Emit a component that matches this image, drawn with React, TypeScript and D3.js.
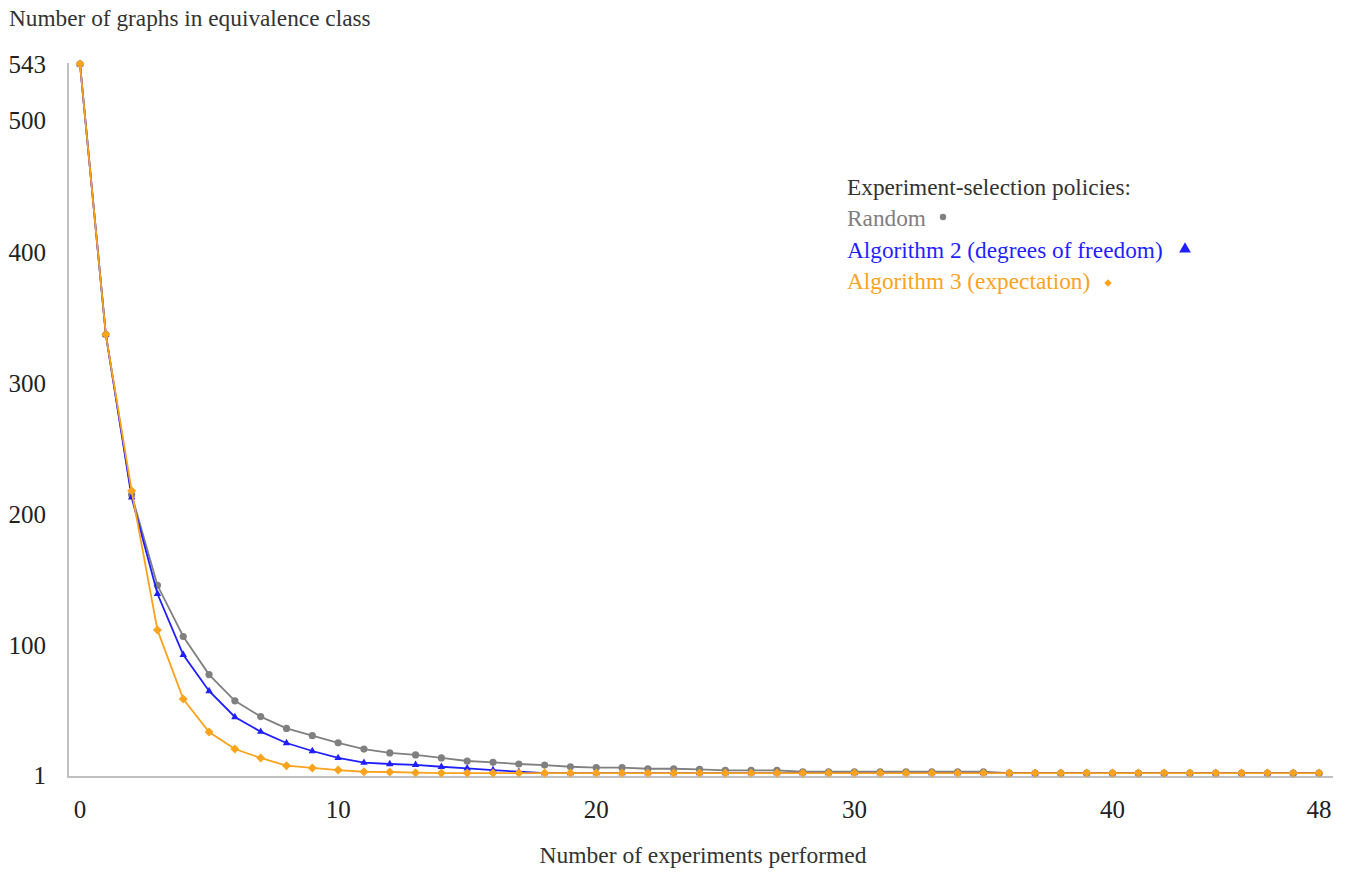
import React from "react";
import * as d3 from "d3";

const steps: number[] = d3.range(0, 49);

const randomPolicy: number[] = [
  543, 337, 215, 146, 107, 78, 58, 46, 37, 31.5, 26, 21.3, 18.3, 16.8, 14.5, 12.2, 11.2,
  9.9, 9.1, 7.8, 7.1, 7.1, 6.3, 6.3, 5.8, 5, 5, 5, 4, 4, 4, 4, 4, 4, 4, 4,
  3, 3, 3, 3, 3, 3, 3, 3, 3, 3, 3, 3, 3,
];

const algorithm2: number[] = [
  543, 337, 213, 139.5, 93, 65.5, 45.7, 34.5, 25.9, 19.8, 14.5, 10.9, 9.9, 9.3, 7.8, 6.6,
  5.3, 4, 3, 3, 3, 3, 3, 3, 3, 3, 3, 3, 3, 3, 3, 3, 3, 3, 3, 3,
  3, 3, 3, 3, 3, 3, 3, 3, 3, 3, 3, 3, 3,
];

const algorithm3: number[] = [
  543, 337, 218, 112, 59.4, 34.3, 21.3, 14.5, 8.6, 6.9, 5.3, 4, 3.8, 3.3, 3, 3, 3, 3, 3,
  3, 3, 3, 3, 3, 3, 3, 3, 3, 3, 3, 3, 3, 3, 3, 3, 3, 3, 3, 3, 3, 3, 3, 3, 3,
  3, 3, 3, 3, 3,
];

const xTicks: number[] = [0, 10, 20, 30, 40, 48];
const yTicks: number[] = [1, 100, 200, 300, 400, 500, 543];

const legendTitle = "Experiment-selection policies:";
const seriesNames = ["Random", "Algorithm 2 (degrees of freedom)", "Algorithm 3 (expectation)"];
const seriesColors = ["#808080", "#1f1fff", "#fba31c"];

const FONT = "'Liberation Serif', 'DejaVu Serif', serif";

export default function App() {
  const W = 1351;
  const H = 872;
  const x = d3.scaleLinear().domain([0, 48]).range([80, 1319]);
  const y = d3.scaleLinear().domain([0, 543]).range([777, 64]);

  const line = d3
    .line<number>()
    .x((_, i) => x(steps[i]))
    .y((d) => y(d));

  const series = [randomPolicy, algorithm2, algorithm3];
  const tri = d3.symbol().type(d3.symbolTriangle).size(24)();

  const marker = (k: number, cx: number, cy: number, key: string | number, big = false) => {
    const color = seriesColors[k];
    if (k === 0) return <circle key={key} cx={cx} cy={cy} r={big ? 3.2 : 3.6} fill={color} />;
    if (k === 1)
      return (
        <path
          key={key}
          d={big ? d3.symbol().type(d3.symbolTriangle).size(60)()! : tri!}
          transform={`translate(${cx},${cy})`}
          fill={color}
        />
      );
    const s = big ? 5.2 : 6.4;
    return (
      <rect
        key={key}
        x={-s / 2}
        y={-s / 2}
        width={s}
        height={s}
        transform={`translate(${cx},${cy}) rotate(45)`}
        fill={color}
      />
    );
  };

  return (
    <svg width={W} height={H} style={{ display: "block", position: "absolute", left: 0, top: 0 }}>
      <rect width={W} height={H} fill="#ffffff" />
      <text x={9} y={26} fontFamily={FONT} fontSize={23.3} fill="#333">
        Number of graphs in equivalence class
      </text>

      {/* axes */}
      <line x1={68} x2={68} y1={63} y2={777} stroke="#c0c0c0" strokeWidth={2} />
      <line x1={67} x2={1333} y1={777} y2={777} stroke="#c0c0c0" strokeWidth={2} />

      {yTicks.map((t) => (
        <text
          key={t}
          x={46}
          y={y(t)}
          dy="0.35em"
          textAnchor="end"
          fontFamily={FONT}
          fontSize={25}
          fill="#222"
        >
          {t}
        </text>
      ))}
      {xTicks.map((t) => (
        <text key={t} x={x(t)} y={818} textAnchor="middle" fontFamily={FONT} fontSize={25} fill="#222">
          {t}
        </text>
      ))}
      <text x={703} y={863} textAnchor="middle" fontFamily={FONT} fontSize={23.5} fill="#333">
        Number of experiments performed
      </text>

      {series.map((s, k) => (
        <g key={k}>
          <path d={line(s)!} fill="none" stroke={seriesColors[k]} strokeWidth={1.8} />
          {s.map((v, i) => marker(k, x(steps[i]), y(v), i))}
        </g>
      ))}

      {/* legend */}
      <text x={847} y={195} fontFamily={FONT} fontSize={23.3} fill="#333">
        {legendTitle}
      </text>
      {seriesNames.map((n, k) => (
        <text key={n} x={847} y={226 + k * 31.5} fontFamily={FONT} fontSize={23.3} fill={seriesColors[k]}>
          {n}
        </text>
      ))}
      {marker(0, 943, 217, "l0", true)}
      {marker(1, 1185, 249, "l1", true)}
      {marker(2, 1108, 283, "l2", true)}
    </svg>
  );
}
